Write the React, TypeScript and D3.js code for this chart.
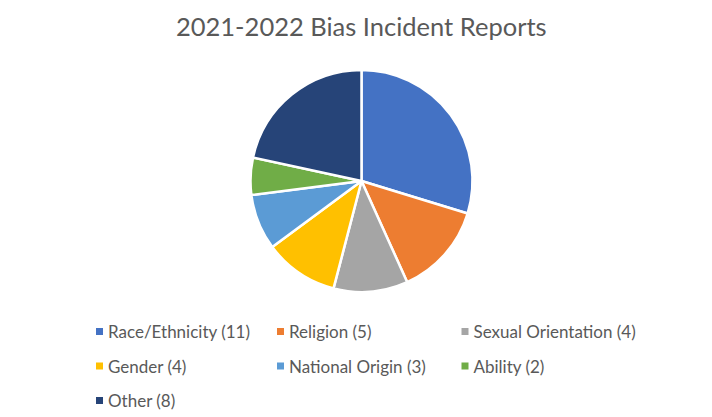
import React from "react";
import * as d3 from "d3";

const categories = ["Race/Ethnicity", "Religion", "Sexual Orientation", "Gender", "National Origin", "Ability", "Other"];
const counts = [11, 5, 4, 4, 3, 2, 8];
const colors = ["#4472C4", "#ED7D31", "#A5A5A5", "#FFC000", "#5B9BD5", "#70AD47", "#264478"];
const title = "2021-2022 Bias Incident Reports";

const W = 712, H = 417;
const cx = 361.5, cy = 181, R = 111;
const font = "Lato, 'Open Sans', sans-serif";

export default function App() {
  const data = categories.map((c, i) => ({ c, v: counts[i], color: colors[i] }));
  const pie = d3.pie<any>().value((d) => d.v).sort(null);
  const arc = d3.arc<any>().innerRadius(0).outerRadius(R);
  const arcs = pie(data);
  const colX = [99.5, 280.5, 465];
  const rowY = [331.5, 366, 400.5];
  return (
    <svg width={W} height={H} style={{ position: "absolute", left: 0, top: 0, background: "#fff" }}>
      <text x={361.3} y={36} textAnchor="middle" fontFamily={font} fontSize={25.5} fill="#595959">{title}</text>
      <g transform={`translate(${cx},${cy})`}>
        {arcs.map((a, i) => (
          <path key={i} d={arc(a) || ""} fill={a.data.color} stroke="#fff" strokeWidth={2.5} strokeLinejoin="round" />
        ))}
      </g>
      {data.map((d, i) => {
        const col = i % 3, row = Math.floor(i / 3);
        const x = colX[col], y = rowY[row];
        return (
          <g key={i}>
            <rect x={x - 3.5} y={y - 3.5} width={7} height={7} fill={d.color} />
            <text x={x + 8.5} y={y} dominantBaseline="central" fontFamily={font} fontSize={17} fill="#595959">{`${d.c} (${d.v})`}</text>
          </g>
        );
      })}
    </svg>
  );
}
